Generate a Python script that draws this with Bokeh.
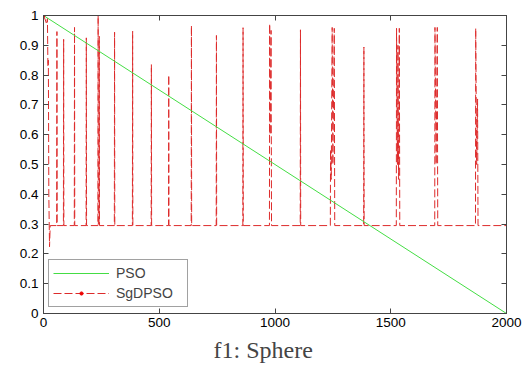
from bokeh.plotting import figure
from bokeh.models import Range1d, LinearAxis, FixedTicker, Legend, LegendItem, Title
from bokeh.embed import file_html
from bokeh.resources import INLINE

# ---- data ----
pso_iter = [0, 2000]
pso_fit = [1.0, 0.0]

b = 0.295  # SgDPSO resting level
sg_iter = [0, 8, 14, 17, 19, 21, 23, 26, 29,
           57, 58, 59,
           86, 87, 88,
           133, 134, 135,
           184, 185, 186,
           235, 236, 237, 240, 241, 242,
           306, 307, 308,
           384, 385, 386,
           465, 466, 467,
           540, 541, 542,
           638, 639, 640,
           746, 747, 748,
           861, 862, 863,
           976, 977, 979, 983, 985,
           1109, 1110, 1111,
           1239, 1240, 1243, 1247, 1250, 1256, 1258,
           1383, 1384, 1385,
           1524, 1525, 1529, 1531, 1534, 1537, 1539,
           1690, 1691, 1696, 1701, 1703,
           1866, 1867, 1871, 1875, 1877,
           2000]
sg_fit = [1.0, 0.985, 0.97, 0.99, 0.83, 0.85, 0.40, 0.224, b,
          b, 0.946, b,
          b, 0.92, b,
          b, 0.96, b,
          b, 0.925, b,
          b, 1.0, b, b, 0.93, b,
          b, 0.944, b,
          b, 0.947, b,
          b, 0.835, b,
          b, 0.80, b,
          b, 0.966, b,
          b, 0.933, b,
          b, 0.959, b,
          b, 0.972, 0.6, 0.95, b,
          b, 0.952, b,
          b, 0.55, 0.45, 0.96, 0.5, 0.957, b,
          b, 0.894, b,
          b, 0.957, 0.5, 0.9, 0.45, 0.957, b,
          b, 0.96, 0.5, 0.96, b,
          b, 0.957, 0.5, 0.72, b,
          b]

x_ticks = [0, 500, 1000, 1500, 2000]
y_ticks = [0, 0.1, 0.2, 0.3, 0.4, 0.5, 0.6, 0.7, 0.8, 0.9, 1.0]
y_labels = ["0", "0.1", "0.2", "0.3", "0.4", "0.5", "0.6", "0.7", "0.8", "0.9", "1"]
series_names = ["PSO", "SgDPSO"]
title_text = "f1: Sphere"

# ---- figure ----
AX = "#444444"
p = figure(width=531, height=367, output_backend="svg", toolbar_location=None,
           x_range=Range1d(0, 2000), y_range=Range1d(0, 1),
           min_border_left=43, min_border_right=25, min_border_top=15,
           min_border_bottom=54, x_axis_location=None, y_axis_location=None)
p.grid.visible = False
p.outline_line_color = AX
p.background_fill_color = "white"
p.border_fill_color = "white"


def style_axis(ax, show_labels):
    ax.axis_line_color = AX
    ax.major_tick_line_color = AX
    ax.minor_tick_line_color = None
    ax.major_tick_in = 5
    ax.major_tick_out = 0
    if show_labels:
        ax.major_label_text_font = "Liberation Sans"
        ax.major_label_text_font_size = "13.5px"
        ax.major_label_text_color = "black"
        ax.major_label_standoff = 5
    else:
        ax.major_label_text_font_size = "0px"
        ax.major_label_text_color = None
        ax.major_label_standoff = 0


xb = LinearAxis(ticker=FixedTicker(ticks=x_ticks))
style_axis(xb, True)
xb.major_label_standoff = 4
p.add_layout(xb, "below")
yl = LinearAxis(ticker=FixedTicker(ticks=y_ticks),
                major_label_overrides=dict(zip(y_ticks, y_labels)))
style_axis(yl, True)
p.add_layout(yl, "left")
xt = LinearAxis(ticker=FixedTicker(ticks=x_ticks))
style_axis(xt, False)
p.add_layout(xt, "above")
yr = LinearAxis(ticker=FixedTicker(ticks=y_ticks))
style_axis(yr, False)
p.add_layout(yr, "right")

r_sg = p.line(sg_iter, sg_fit, line_color="#dd2b2b", line_width=1, line_dash="8 3")
r_pso = p.line(pso_iter, pso_fit, line_color="#44dd44", line_width=1)
r_dot = p.scatter(x=sg_iter[:1], y=sg_fit[:1], marker="circle", size=3, color="#ee0000")

legend = Legend(items=[LegendItem(label=series_names[0], renderers=[r_pso]),
                       LegendItem(label=series_names[1], renderers=[r_sg, r_dot])],
                location=(5, 6.5), margin=0, padding=4, spacing=2,
                glyph_width=56, glyph_height=8, label_height=18, label_width=67,
                label_standoff=7, label_text_font="Liberation Sans",
                label_text_font_size="14px", border_line_color=AX,
                background_fill_color="white", background_fill_alpha=1)
p.add_layout(legend)

p.add_layout(Title(text=title_text, align="left", text_font="Liberation Serif",
                   text_font_size="24px", text_font_style="normal", standoff=10,
                   offset=170), "below")

open("out.html", "w").write(file_html(p, INLINE))
